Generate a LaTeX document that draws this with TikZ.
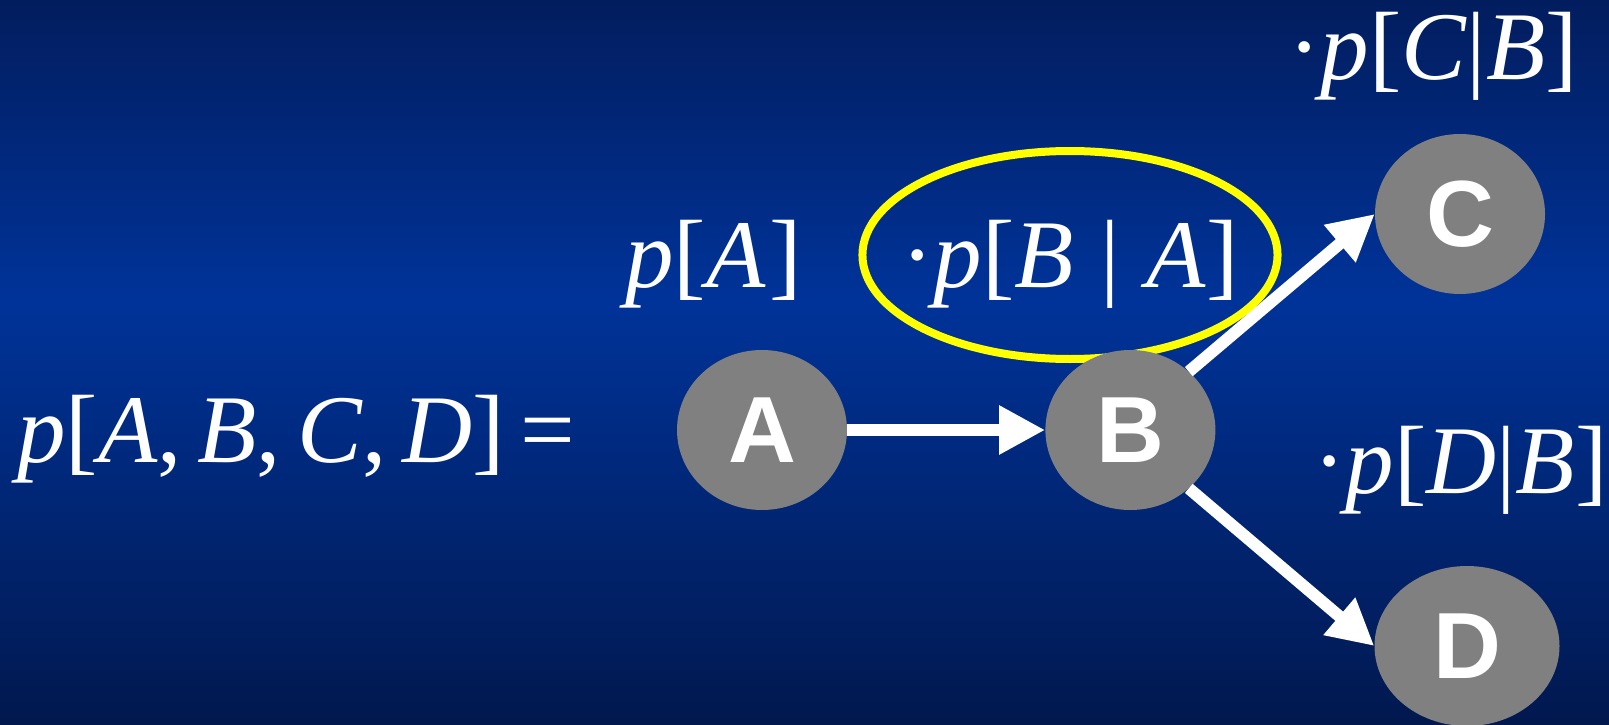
\documentclass[tikz,border=0pt]{standalone}
\usepackage{fontspec}
\setmainfont{Liberation Serif}
\newfontfamily\labelfont{Liberation Sans}
\usetikzlibrary{positioning,arrows.meta,shapes.geometric}

\definecolor{bgtop}{RGB}{2,29,94}
\definecolor{bgmid}{RGB}{0,51,153}
\definecolor{bgbot}{RGB}{1,24,78}
\definecolor{nodegray}{RGB}{128,128,128}
\definecolor{hlyellow}{RGB}{255,255,0}

\newcommand{\vr}[1]{\textit{#1}}

\begin{document}
\begin{tikzpicture}[
			x=1pt, y=-1pt,
			>={Triangle[length=46pt,width=46pt]},
			gnode/.style={
				ellipse,
				fill=nodegray,
				minimum width=170pt,
				minimum height=160pt,
				inner sep=0pt,
				text=white,
				font=\labelfont\bfseries\fontsize{94}{94}\selectfont
			},
			formula/.style={
				inner sep=0pt,
				text=white,
				font=\fontsize{97}{97}\selectfont
			},
			flow/.style={->, white, line width=12pt}
			]
			
			%%%%%%%%%%%%%%%%%%%%%%%%%%%%%%%%%%%%%%%%%%%%%%%%%%%%%%%%%%%%
			% Background
			%%%%%%%%%%%%%%%%%%%%%%%%%%%%%%%%%%%%%%%%%%%%%%%%%%%%%%%%%%%%
			
			\useasboundingbox (0,0) rectangle (1609,725);
			
			\shade[top color=bgtop, bottom color=bgmid] (0,0) rectangle (1609,300);
			
			\shade[top color=bgmid, bottom color=bgbot] (0,300) rectangle (1609,725);
			
			%%%%%%%%%%%%%%%%%%%%%%%%%%%%%%%%%%%%%%%%%%%%%%%%%%%%%%%%%%%%
			% Factors
			%%%%%%%%%%%%%%%%%%%%%%%%%%%%%%%%%%%%%%%%%%%%%%%%%%%%%%%%%%%%
			
			\node (joint) [formula, anchor=base west] at (17,462)
			{\vr{p}[\vr{A},\,\vr{B},\,\vr{C},\,\vr{D}]\,=};
			
			\node (pa) [formula, anchor=base west] at (625,287)
			{\vr{p}[\vr{A}\kern4pt]};
			
			\node (pba) [formula, ellipse, draw=hlyellow, line width=8pt,
			inner xsep=-22pt, minimum width=410pt, minimum height=208pt,
			text height=85pt, text depth=21pt] at (1070,255)
			{·\vr{p}[\vr{B}\;|\;\vr{A}]};
			
			\node (pcb) [formula, anchor=base west] at (1288,80)
			{·\vr{p}[\vr{C}|\vr{B}]};
			
			\node (pdb) [formula, anchor=base west] at (1313,493)
			{·\vr{p}[\vr{D}|\vr{B}]};
			
			%%%%%%%%%%%%%%%%%%%%%%%%%%%%%%%%%%%%%%%%%%%%%%%%%%%%%%%%%%%%
			% Variables
			%%%%%%%%%%%%%%%%%%%%%%%%%%%%%%%%%%%%%%%%%%%%%%%%%%%%%%%%%%%%
			
			\node (A) [gnode] at (762,430) {A};
			
			\node (B) [gnode, right=198pt of A] {B};
			
			\node (C) [gnode] at (1460,214) {C};
			
			\node (D) [gnode, minimum width=185pt] at (1467,646) {D};
			
			%%%%%%%%%%%%%%%%%%%%%%%%%%%%%%%%%%%%%%%%%%%%%%%%%%%%%%%%%%%%
			% Connections
			%%%%%%%%%%%%%%%%%%%%%%%%%%%%%%%%%%%%%%%%%%%%%%%%%%%%%%%%%%%%
			
			\draw[flow] (A) -- (B);
			
			\draw[flow] (B.45) -- (C.west);
			
			\draw[flow] (B.-45) -- (D.west);
			
		\end{tikzpicture}
\end{document}
